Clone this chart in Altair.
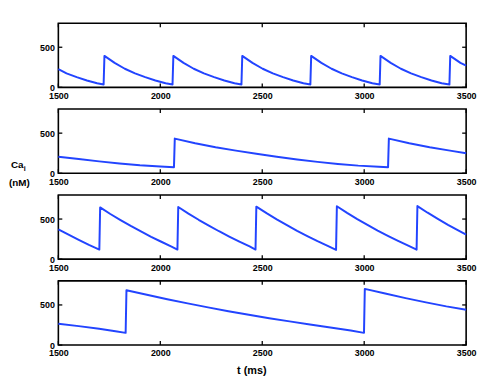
import altair as alt
import pandas as pd

# ---- data ----
P1_T = [1500, 1540, 1590, 1640, 1690, 1722,
        1726, 1776, 1826, 1876, 1926, 1976, 2026, 2060,
        2064, 2114, 2164, 2214, 2264, 2314, 2364, 2398,
        2402, 2452, 2502, 2552, 2602, 2652, 2702, 2736,
        2740, 2790, 2840, 2890, 2940, 2990, 3040, 3076,
        3080, 3130, 3180, 3230, 3280, 3330, 3380, 3418,
        3422, 3472, 3500]
P1_CA = [228, 175, 128, 86, 52, 36,
         392, 305, 232, 175, 128, 86, 52, 36,
         392, 305, 232, 175, 128, 86, 52, 36,
         392, 305, 232, 175, 128, 86, 52, 36,
         392, 305, 232, 175, 128, 86, 52, 36,
         392, 305, 232, 175, 128, 86, 52, 36,
         392, 305, 272]

P2_T = [1500, 1600, 1700, 1800, 1900, 2000, 2067,
        2071, 2171, 2271, 2371, 2471, 2571, 2671, 2771, 2871, 2971, 3071, 3117,
        3121, 3221, 3321, 3421, 3500]
P2_CA = [206, 178, 148, 121, 99, 83, 75,
         432, 375, 325, 282, 242, 205, 172, 142, 116, 95, 80, 75,
         432, 375, 325, 282, 250]

P3_T = [1500, 1550, 1600, 1650, 1701,
        1705, 1755, 1805, 1855, 1905, 1955, 2005, 2055, 2084,
        2088, 2138, 2188, 2238, 2288, 2338, 2388, 2438, 2467,
        2471, 2521, 2571, 2621, 2671, 2721, 2771, 2821, 2862,
        2866, 2916, 2966, 3016, 3066, 3116, 3166, 3216, 3257,
        3261, 3311, 3361, 3411, 3461, 3500]
P3_CA = [372, 305, 240, 178, 120,
         645, 563, 487, 414, 345, 279, 217, 157, 120,
         650, 568, 491, 418, 348, 282, 219, 159, 120,
         655, 573, 496, 423, 353, 288, 225, 166, 116,
         660, 577, 500, 427, 357, 291, 228, 168, 118,
         662, 579, 502, 428, 358, 306]

P4_T = [1500, 1600, 1700, 1780, 1830,
        1834, 1934, 2034, 2134, 2234, 2334, 2434, 2534, 2634, 2734, 2834, 2934, 2999,
        3003, 3103, 3203, 3303, 3403, 3500]
P4_CA = [266, 236, 203, 173, 152,
         684, 628, 572, 520, 470, 422, 377, 335, 295, 257, 220, 182, 152,
         700, 642, 585, 532, 482, 440]

X_TICKS = [1500, 2000, 2500, 3000, 3500]
Y_TICKS = [0, 500]

W, H = 413, 65
FONT = "Liberation Sans"
BLUE = "#2244ff"

xscale = alt.Scale(domain=[1500, 3500], nice=False, zero=False)
yscale = alt.Scale(domain=[0, 800], nice=False)
xaxis = alt.Axis(values=X_TICKS, title=None, grid=False, domain=False, ticks=True, tickSize=0,
                 labelFlush=False, labelPadding=4, labelFont=FONT, labelFontSize=9,
                 labelFontWeight="bold", labelColor="black", format="d")
yaxis = alt.Axis(values=Y_TICKS, title=None, grid=False, domain=False, ticks=True, tickSize=0,
                 labelFlush=False, labelPadding=4, labelFont=FONT, labelFontSize=9,
                 labelFontWeight="bold", labelColor="black", format="d")

xt = pd.DataFrame({"v": X_TICKS})
yt = pd.DataFrame({"v": Y_TICKS})
one = pd.DataFrame({"a": [0]})


def panel(ts, cas, extra=None):
    df = pd.DataFrame({"t": ts, "ca": cas})
    line = alt.Chart(df).mark_line(color=BLUE, strokeWidth=2, strokeJoin="round").encode(
        x=alt.X("t:Q", scale=xscale, axis=xaxis),
        y=alt.Y("ca:Q", scale=yscale, axis=yaxis),
    )
    tick_style = dict(color="black", strokeWidth=1.3)
    xt_top = alt.Chart(xt).mark_rule(**tick_style).encode(
        x=alt.X("v:Q", scale=xscale, axis=xaxis), y=alt.value(0), y2=alt.value(4))
    xt_bot = alt.Chart(xt).mark_rule(**tick_style).encode(
        x=alt.X("v:Q", scale=xscale, axis=xaxis), y=alt.value(H - 4), y2=alt.value(H))
    yt_l = alt.Chart(yt).mark_rule(**tick_style).encode(
        y=alt.Y("v:Q", scale=yscale, axis=yaxis), x=alt.value(0), x2=alt.value(4))
    yt_r = alt.Chart(yt).mark_rule(**tick_style).encode(
        y=alt.Y("v:Q", scale=yscale, axis=yaxis), x=alt.value(W - 4), x2=alt.value(W))
    layers = [line, xt_top, xt_bot, yt_l, yt_r]
    if extra:
        layers += extra
    return alt.layer(*layers).properties(width=W, height=H)


def label(txt, x, y, size=10, align="left"):
    return alt.Chart(one).mark_text(
        font=FONT, fontSize=size, fontWeight="bold", color="black",
        align=align, baseline="middle").encode(
        x=alt.value(x), y=alt.value(y), text=alt.value(txt))


ylab = [label("Ca", -48, 57), label("i", -35, 61, size=7), label("(nM)", -50, 75)]
xlab = [label("t (ms)", 196, 91, size=11, align="center")]

chart = alt.vconcat(
    panel(P1_T, P1_CA),
    panel(P2_T, P2_CA, ylab),
    panel(P3_T, P3_CA),
    panel(P4_T, P4_CA, xlab),
    spacing=22,
    bounds="flush",
).properties(
    padding={"left": 0, "top": 11, "right": 0, "bottom": 0}
).configure(
    background="white"
).configure_view(
    stroke="black", strokeWidth=1.6
)

chart.save("out.html", embed_options={"renderer": "svg", "actions": False})
